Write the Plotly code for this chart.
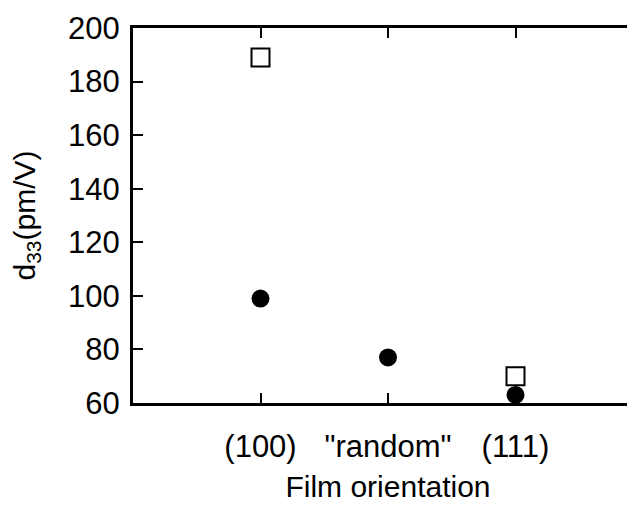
import plotly.graph_objects as go

categories = ['(100)', '"random"', '(111)']
cat_pos = [1, 2, 3]
open_square_values = [189, None, 70]
filled_circle_values = [99, 77, 63]
y_ticks = [60, 80, 100, 120, 140, 160, 180, 200]

FONT = "Liberation Sans, Arial, Helvetica, sans-serif"
TICK_FS = 31
TITLE_FS = 30

fig = go.Figure()
fig.add_trace(go.Scatter(
    x=cat_pos, y=open_square_values, mode="markers",
    marker=dict(symbol="square-open", size=18, color="black", line=dict(width=2, color="black")),
    cliponaxis=False, showlegend=False))
fig.add_trace(go.Scatter(
    x=cat_pos, y=filled_circle_values, mode="markers",
    marker=dict(symbol="circle", size=18, color="black"),
    cliponaxis=False, showlegend=False))
# invisible trace to carry right-side tick axis
fig.add_trace(go.Scatter(x=[None], y=[None], yaxis="y2", showlegend=False))

fig.update_layout(
    width=635, height=510,
    margin=dict(l=125, r=0, t=20, b=115, autoexpand=False),
    paper_bgcolor="white", plot_bgcolor="white",
    font=dict(family=FONT, size=TICK_FS, color="black"),
    xaxis=dict(
        range=[0, 4], tickvals=cat_pos, ticktext=categories,
        showline=True, linewidth=3, linecolor="black", mirror="ticks",
        ticks="inside", ticklen=10, tickwidth=2, tickcolor="black",
        showgrid=False, zeroline=False, ticklabelstandoff=14,
        tickfont=dict(family=FONT, size=TICK_FS, color="black"),
        automargin=False,
        title=dict(text="Film orientation", standoff=13,
                   font=dict(family=FONT, size=TITLE_FS, color="black")),
    ),
    yaxis=dict(
        range=[60, 200], tickvals=y_ticks,
        showline=True, linewidth=3, linecolor="black",
        ticks="inside", ticklen=10, tickwidth=2, tickcolor="black",
        showgrid=False, zeroline=False, ticklabelstandoff=4,
        tickfont=dict(family=FONT, size=TICK_FS, color="black"),
        automargin=False,
        title=dict(text="d<sub>33</sub>(pm/V)", standoff=24,
                   font=dict(family=FONT, size=TITLE_FS, color="black")),
    ),
    yaxis2=dict(
        range=[60, 200], tickvals=y_ticks, overlaying="y", side="right",
        showline=False, ticks="inside", ticklen=6, tickwidth=2, tickcolor="black",
        showticklabels=False, showgrid=False, zeroline=False, automargin=False,
    ),
)

fig.write_html("out.html")
